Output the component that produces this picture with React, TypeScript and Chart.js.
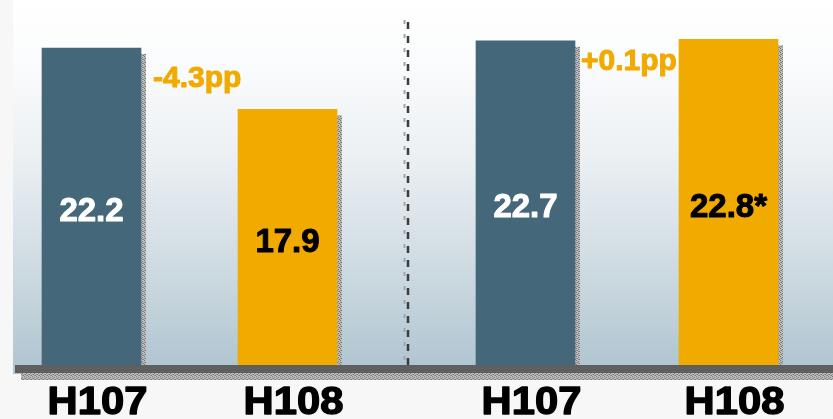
import { useEffect, useRef } from 'react';
import { Chart, registerables } from 'chart.js';

Chart.register(...registerables);

// Half-year periods shown in each panel
const periods = ['H107', 'H108'];
// Left panel values
const firstPanelValues = [22.2, 17.9];
// Right panel values
const secondPanelValues = [22.7, 22.8];
// Footnote markers appended to the right panel's value labels
const secondPanelMarks = ['', '*'];

const barColors = ['#44677a', '#f0aa00'];
const valueTextColors = ['#ffffff', '#000000'];
const noteColor = '#f0aa00';

const W = 833;
const H = 419;
const BASE_Y = 365;
const FONT = "'Liberation Sans', Arial, Helvetica, sans-serif";

type Panel = {
  pageX: number;
  width: number;
  padLeft: number;
  padRight: number;
  values: number[];
  marks: string[];
  noteDx: number;
  noteDy: number;
  divider: boolean;
};

const panels: Panel[] = [
  { pageX: 0, width: 400, padLeft: 91.5, padRight: 112.5, values: firstPanelValues, marks: ['', ''], noteDx: 12, noteDy: 39, divider: false },
  { pageX: 400, width: 433, padLeft: 125.5, padRight: 104.5, values: secondPanelValues, marks: secondPanelMarks, noteDx: 6, noteDy: 29, divider: true },
];

function makeShadowPattern(ctx: CanvasRenderingContext2D) {
  const c = document.createElement('canvas');
  c.width = 4;
  c.height = 4;
  const p = c.getContext('2d')!;
  p.fillStyle = '#bdbdbd';
  p.fillRect(0, 0, 4, 4);
  p.fillStyle = '#767676';
  p.fillRect(0, 0, 1, 1);
  p.fillRect(2, 1, 1, 1);
  p.fillRect(1, 2, 1, 1);
  p.fillRect(3, 3, 1, 1);
  p.fillStyle = '#959595';
  p.fillRect(2, 3, 1, 1);
  p.fillRect(0, 2, 1, 1);
  return ctx.createPattern(c, 'repeat')!;
}

function changeText(values: number[]) {
  const d = values[1] - values[0];
  return (d >= 0 ? '+' : '-') + Math.abs(d).toFixed(1) + 'pp';
}

// Fill text and trace its outline in the same colour for a heavier weight
function heavyText(ctx: CanvasRenderingContext2D, text: string, x: number, y: number, color: string, weight: number) {
  ctx.fillStyle = color;
  ctx.strokeStyle = color;
  ctx.lineWidth = weight;
  ctx.lineJoin = 'round';
  ctx.fillText(text, x, y);
  ctx.strokeText(text, x, y);
}

function panelPlugin(cfg: Panel) {
  return {
    id: 'panelDecor',
    beforeDraw(chart: any) {
      const ctx: CanvasRenderingContext2D = chart.ctx;
      const w = cfg.width;
      ctx.save();
      ctx.fillStyle = '#f7f7f7';
      ctx.fillRect(0, 0, w, H);

      // plot background gradient
      const gx = Math.max(0, 13 - cfg.pageX);
      const grad = ctx.createLinearGradient(0, 0, 0, 374);
      grad.addColorStop(0, '#ffffff');
      grad.addColorStop(0.15, '#fbfcfd');
      grad.addColorStop(0.4, '#edf1f4');
      grad.addColorStop(0.6, '#dae3e9');
      grad.addColorStop(0.8, '#c5d4dc');
      grad.addColorStop(1, '#adc4d0');
      ctx.fillStyle = grad;
      ctx.fillRect(gx, 0, w - gx, 374);

      // shadow under the baseline
      const pat = makeShadowPattern(ctx);
      const sx = Math.max(0, 21 - cfg.pageX);
      ctx.fillStyle = pat;
      ctx.fillRect(sx, 373, w - sx, 7);

      // dashed divider between the panels
      if (cfg.divider) {
        const dx = 403 - cfg.pageX;
        ctx.lineWidth = 2;
        ctx.strokeStyle = '#a6a6a6';
        ctx.setLineDash([4, 10]);
        ctx.beginPath();
        ctx.moveTo(dx + 1.5, 20);
        ctx.lineTo(dx + 1.5, BASE_Y);
        ctx.stroke();
        ctx.lineWidth = 2.5;
        ctx.strokeStyle = '#3c3c3c';
        ctx.setLineDash([7, 7]);
        ctx.beginPath();
        ctx.moveTo(dx + 5, 22);
        ctx.lineTo(dx + 5, BASE_Y);
        ctx.stroke();
        ctx.setLineDash([]);
      }
      ctx.restore();
    },
    beforeDatasetsDraw(chart: any) {
      const ctx: CanvasRenderingContext2D = chart.ctx;
      const meta = chart.getDatasetMeta(0);
      const pat = makeShadowPattern(ctx);
      ctx.save();
      ctx.fillStyle = pat;
      meta.data.forEach((bar: any) => {
        const right = bar.x + bar.width / 2;
        ctx.fillRect(right, bar.y + 6, 5, bar.base - bar.y - 6);
      });
      ctx.restore();
    },
    afterDatasetsDraw(chart: any) {
      const ctx: CanvasRenderingContext2D = chart.ctx;
      const meta = chart.getDatasetMeta(0);
      const xScale = chart.scales.x;
      ctx.save();

      // baseline
      const bx = Math.max(0, 15 - cfg.pageX);
      ctx.fillStyle = '#5f5f5f';
      ctx.fillRect(bx, BASE_Y, cfg.width - bx, 8);

      // value labels inside the bars
      ctx.textAlign = 'center';
      ctx.textBaseline = 'alphabetic';
      ctx.font = `bold 33px ${FONT}`;
      meta.data.forEach((bar: any, i: number) => {
        const mid = (bar.y + bar.base) / 2 + 2.5;
        heavyText(ctx, cfg.values[i].toFixed(1) + cfg.marks[i], bar.x, mid + 0.358 * 33, valueTextColors[i], 1);
      });

      // period labels under the baseline
      ctx.font = `bold 39px ${FONT}`;
      periods.forEach((p, i) => {
        const x = xScale.getPixelForValue(i) + 6;
        ctx.save();
        ctx.translate(x, 414);
        ctx.scale(1.07, 1);
        heavyText(ctx, p, 0, 0, '#000000', 1.4);
        ctx.restore();
      });

      // change annotation
      const first = meta.data[0];
      ctx.textAlign = 'left';
      ctx.font = `bold 30px ${FONT}`;
      heavyText(ctx, changeText(cfg.values), first.x + first.width / 2 + cfg.noteDx, first.y + cfg.noteDy, noteColor, 1);
      ctx.restore();
    },
  };
}

function PanelChart({ cfg }: { cfg: Panel }) {
  const ref = useRef<HTMLCanvasElement>(null);
  useEffect(() => {
    const chart = new Chart(ref.current!, {
      type: 'bar',
      data: {
        labels: periods,
        datasets: [
          {
            data: cfg.values,
            backgroundColor: barColors,
            barThickness: 99,
            borderWidth: 0,
            clip: false,
          } as any,
        ],
      },
      options: {
        responsive: false,
        animation: false,
        events: [],
        layout: { padding: { left: cfg.padLeft, right: cfg.padRight, top: 8, bottom: H - BASE_Y } },
        plugins: { legend: { display: false }, tooltip: { enabled: false } },
        scales: {
          x: { type: 'category', offset: false, display: false },
          y: { min: 0, max: 25, display: false },
        },
      },
      plugins: [panelPlugin(cfg)],
    });
    return () => chart.destroy();
  }, [cfg]);
  return (
    <canvas
      ref={ref}
      width={cfg.width}
      height={H}
      style={{ position: 'absolute', left: cfg.pageX, top: 0, width: cfg.width, height: H, display: 'block' }}
    />
  );
}

export default function App() {
  return (
    <div style={{ position: 'absolute', left: 0, top: 0, width: W, height: H, background: '#f7f7f7', overflow: 'hidden' }}>
      {panels.map((p, i) => (
        <PanelChart key={i} cfg={p} />
      ))}
    </div>
  );
}
